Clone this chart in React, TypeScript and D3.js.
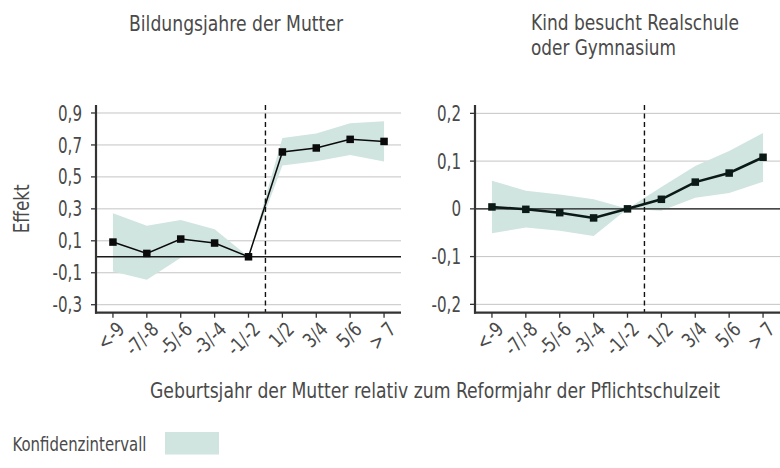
import React from "react";
import * as d3 from "d3";

const categories = ["<-9", "-7/-8", "-5/-6", "-3/-4", "-1/-2", "1/2", "3/4", "5/6", "> 7"];

const leftEffect = [0.092, 0.021, 0.111, 0.086, 0.0, 0.656, 0.681, 0.735, 0.722];
const leftLower = [-0.092, -0.144, -0.006, 0.0, 0.0, 0.571, 0.598, 0.637, 0.597];
const leftUpper = [0.272, 0.194, 0.23, 0.172, 0.0, 0.744, 0.771, 0.836, 0.849];
const leftTicks = [-0.3, -0.1, 0.1, 0.3, 0.5, 0.7, 0.9];

const rightEffect = [0.004, -0.001, -0.008, -0.019, 0.0, 0.02, 0.056, 0.075, 0.108];
const rightLower = [-0.051, -0.039, -0.046, -0.057, 0.0, -0.004, 0.023, 0.033, 0.057];
const rightUpper = [0.059, 0.038, 0.03, 0.02, 0.0, 0.046, 0.09, 0.121, 0.159];
const rightTicks = [-0.2, -0.1, 0, 0.1, 0.2];

const FONT = "'DejaVu Sans Condensed', 'Liberation Sans Narrow', sans-serif";
const TEXT = "#4a4a4a";
const BAND = "#d0e4e0";

const fmt = (v: number) => {
  if (Math.abs(v) < 1e-9) return "0";
  return d3.format(".1f")(v).replace(".", ",").replace("−", "-");
};

type CTextProps = {
  x: number;
  y: number;
  size: number;
  sx?: number;
  rotate?: number;
  anchor?: "start" | "middle" | "end";
  dy?: string;
  len?: number;
  children: React.ReactNode;
};

function CText({ x, y, size, sx = 0.82, rotate = 0, anchor = "start", dy, len, children }: CTextProps) {
  return (
    <text
      transform={`translate(${x},${y}) rotate(${rotate}) scale(${sx},1)`}
      textAnchor={anchor}
      dy={dy}
      fontFamily={FONT}
      fontSize={size}
      fill={TEXT}
      textLength={len ? len / sx : undefined}
      lengthAdjust={len ? "spacingAndGlyphs" : undefined}
    >
      {children}
    </text>
  );
}

type PanelProps = {
  x0: number;
  x1: number;
  top: number;
  bottom: number;
  domain: [number, number];
  ticks: number[];
  effect: number[];
  lower: number[];
  upper: number[];
  lineWidth: number;
  lineColor: string;
};

function Panel(p: PanelProps) {
  const x = d3.scalePoint<string>().domain(categories).range([p.x0, p.x1]).padding(0.5);
  const y = d3.scaleLinear().domain(p.domain).range([p.bottom, p.top]);
  const idx = categories.map((_, i) => i);
  const area = d3
    .area<number>()
    .x((i) => x(categories[i])!)
    .y0((i) => y(p.lower[i]))
    .y1((i) => y(p.upper[i]));
  const line = d3
    .line<number>()
    .x((i) => x(categories[i])!)
    .y((i) => y(p.effect[i]));
  const dashX = (x(categories[4])! + x(categories[5])!) / 2;
  const ms = 7.5;
  return (
    <g>
      {p.ticks.map((t) => (
        <g key={t}>
          <line x1={p.x0} x2={p.x1} y1={y(t)} y2={y(t)} stroke="#c4c4c4" strokeWidth={1} />
          <line x1={p.x0 - 5} x2={p.x0} y1={y(t)} y2={y(t)} stroke="#333" strokeWidth={1.3} />
          <CText x={p.x0 - 14} y={y(t)} dy="0.36em" anchor="end" size={21} sx={0.8}>
            {fmt(t)}
          </CText>
        </g>
      ))}
      <path d={area(idx) || ""} fill={BAND} />
      <line x1={p.x0} x2={p.x1} y1={y(0)} y2={y(0)} stroke="#1a1a1a" strokeWidth={1.4} />
      <line
        x1={dashX}
        x2={dashX}
        y1={p.top}
        y2={p.bottom}
        stroke="#111"
        strokeWidth={1.4}
        strokeDasharray="5,3.5"
      />
      <path d={line(idx) || ""} fill="none" stroke={p.lineColor} strokeWidth={p.lineWidth} />
      {idx.map((i) => (
        <rect
          key={i}
          x={x(categories[i])! - ms / 2}
          y={y(p.effect[i]) - ms / 2}
          width={ms}
          height={ms}
          fill={p.lineColor}
        />
      ))}
      <line x1={p.x0} x2={p.x0} y1={p.top} y2={p.bottom + 1} stroke="#333" strokeWidth={2.2} />
      <line x1={p.x0 - 1} x2={p.x1} y1={p.bottom} y2={p.bottom} stroke="#333" strokeWidth={2.2} />
      {categories.map((c) => (
        <g key={c}>
          <line x1={x(c)!} x2={x(c)!} y1={p.bottom} y2={p.bottom + 5} stroke="#333" strokeWidth={1.3} />
          <CText x={x(c)! + 8} y={p.bottom + 13} rotate={-45} anchor="end" dy="0.35em" size={20} sx={0.88}>
            {c}
          </CText>
        </g>
      ))}
    </g>
  );
}

export default function App() {
  const top = 105;
  const bottom = 312.7;
  return (
    <svg width={780} height={468} style={{ display: "block", position: "absolute", left: 0, top: 0 }}>
      <rect width={780} height={468} fill="#fff" />
      <CText x={129} y={30.5} size={21} len={214}>
        Bildungsjahre der Mutter
      </CText>
      <CText x={531} y={30} size={21} len={208}>
        Kind besucht Realschule
      </CText>
      <CText x={531} y={55} size={21} len={145}>
        oder Gymnasium
      </CText>
      <CText x={29} y={(top + bottom) / 2} rotate={-90} anchor="middle" size={21} len={49}>
        Effekt
      </CText>
      <Panel
        x0={96}
        x1={401}
        top={top}
        bottom={bottom}
        domain={[-0.35, 0.95]}
        ticks={leftTicks}
        effect={leftEffect}
        lower={leftLower}
        upper={leftUpper}
        lineWidth={1.5}
        lineColor="#0a0a0a"
      />
      <Panel
        x0={475}
        x1={780}
        top={top}
        bottom={bottom}
        domain={[-0.2175, 0.2175]}
        ticks={rightTicks}
        effect={rightEffect}
        lower={rightLower}
        upper={rightUpper}
        lineWidth={2.6}
        lineColor="#0b1a16"
      />
      <CText x={150} y={398} size={21} len={570}>
        Geburtsjahr der Mutter relativ zum Reformjahr der Pflichtschulzeit
      </CText>
      <CText x={12.5} y={450.5} size={20} len={134}>
        Konfidenzintervall
      </CText>
      <rect x={165} y={432} width={54} height={22.5} fill={BAND} />
    </svg>
  );
}
